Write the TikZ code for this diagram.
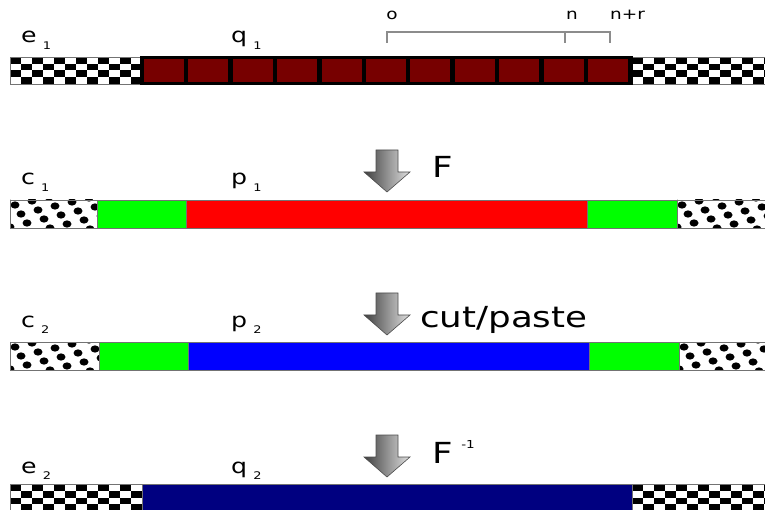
\documentclass[tikz,border=0pt]{standalone}
\usepackage{fontspec}
\setmainfont{DejaVu Sans}
\usetikzlibrary{calc}

% horizontally widened lettering
\newcommand\widetext[1]{\scalebox{1.23}[1]{#1}}
% letter with a detached, lowered index
\newcommand\idx[2]{\widetext{#1\hspace{5pt}\raisebox{-6.5pt}{\fontsize{10.5}{10.5}\selectfont #2}}}

\definecolor{maroonbar}{HTML}{770000}
\definecolor{greenbar}{HTML}{00FF00}
\definecolor{redbar}{HTML}{FF0000}
\definecolor{bluebar}{HTML}{0000FF}
\definecolor{navybar}{HTML}{000080}

\tikzset{
  seg/.style={draw=black!55, line width=0.8pt},
  lbl/.style={inner sep=0pt, anchor=base west, font=\fontsize{20.5}{20.5}\selectfont},
  biglbl/.style={inner sep=0pt, anchor=base west, font=\fontsize{29}{29}\selectfont},
  ticklbl/.style={inner sep=0pt, anchor=base, font=\fontsize{15}{15}\selectfont},
  bracketline/.style={draw=black!45, line width=1.3pt},
  downarrow/.style={draw=black!70, line width=0.6pt, left color=black!75, right color=black!12},
}

% checkerboard strip: x0, x1, top
\newcommand\checkerstrip[3]{%
  \begin{scope}
    \clip (#1,#3) rectangle (#2,#3+27);
    \fill[white] (#1,#3) rectangle (#2,#3+27);
    \foreach \j in {0,...,3}{
      \foreach \i in {0,...,12}{
        \pgfmathtruncatemacro\cpar{mod(\i+\j,2)}
        \ifnum\cpar=0
          \fill[black] (#1+11*\i,#3+6.75*\j) rectangle ++(11,6.75);
        \fi
      }
    }
  \end{scope}
  \draw[seg] (#1,#3) rectangle (#2,#3+27);
}

% dotted strip: x0, x1, top
\newcommand\dotstrip[3]{%
  \begin{scope}
    \clip (#1,#3) rectangle (#2,#3+28);
    \fill[white] (#1,#3) rectangle (#2,#3+28);
    \foreach \j in {-2,...,5}{
      \foreach \i in {-3,...,7}{
        \fill[black] (#1+5+17*\i+6*\j,#3+5-4*\i+9*\j) ellipse [x radius=4.5, y radius=3.6];
      }
    }
  \end{scope}
  \draw[seg] (#1,#3) rectangle (#2,#3+28);
}

% shaded down arrow: centre x, top y
\newcommand\shadedarrow[2]{%
  \path[downarrow] (#1-11,#2) -- (#1+11,#2) -- (#1+11,#2+22) -- (#1+23,#2+22)
    -- (#1,#2+42) -- (#1-23,#2+22) -- (#1-11,#2+22) -- cycle;
}

\begin{document}
\begin{tikzpicture}[x=1pt, y=-1pt]
\useasboundingbox (0,0) rectangle (765,510);

% ---------- row 1 : e1 / q1 ----------
\checkerstrip{10}{141}{57}
\checkerstrip{632}{766}{57}
\fill[black] (140,56) rectangle (633,85);
\foreach \k in {0,...,10}
  \fill[maroonbar] (144+44.4*\k,59.5) rectangle ++(40,22.5);

\draw[bracketline] (387,43) -- (387,32) -- (610,32) -- (610,43);
\draw[bracketline] (565,32) -- (565,43);
\node[ticklbl] (to) at (392,19.5) {\widetext{o}};
\node[ticklbl] (tn) at (572,19.5) {\widetext{n}};
\node[ticklbl, anchor=base west] (tnr) at (610,19.5) {\widetext{n+r}};

\node[lbl] (e1) at (21,43) {\idx{e}{1}};
\node[lbl] (q1) at (231,43) {\idx{q}{1}};

% ---------- row 2 : c1 / p1 ----------
\shadedarrow{387}{150}
\node[biglbl] (F) at (432,178) {\widetext{F}};
\dotstrip{10}{97}{200}
\fill[greenbar] (97,200) rectangle (186,228);
\draw[seg] (97,200) rectangle (186,228);
\fill[redbar] (186,200) rectangle (587,228);
\draw[seg] (186,200) rectangle (587,228);
\fill[greenbar] (587,200) rectangle (677,228);
\draw[seg] (587,200) rectangle (677,228);
\dotstrip{677}{766}{200}
\node[lbl] (c1) at (21,185) {\idx{c}{1}};
\node[lbl] (p1) at (231,185) {\idx{p}{1}};

% ---------- row 3 : c2 / p2 ----------
\shadedarrow{387}{293}
\node[biglbl] (cp) at (420,327) {\widetext{cut/paste}};
\dotstrip{10}{99}{342}
\fill[greenbar] (99,342) rectangle (188,370);
\draw[seg] (99,342) rectangle (188,370);
\fill[bluebar] (188,342) rectangle (589,370);
\draw[seg] (188,342) rectangle (589,370);
\fill[greenbar] (589,342) rectangle (679,370);
\draw[seg] (589,342) rectangle (679,370);
\dotstrip{679}{766}{342}
\node[lbl] (c2) at (21,327) {\idx{c}{2}};
\node[lbl] (p2) at (231,327) {\idx{p}{2}};

% ---------- row 4 : e2 / q2 ----------
\shadedarrow{387}{435}
\node[biglbl] (Finv) at (432,463) {\widetext{F\hspace{7pt}\raisebox{15pt}{\fontsize{11}{11}\selectfont -1}}};
\checkerstrip{10}{142}{484}
\fill[navybar] (142,484) rectangle (632,512);
\draw[seg] (142,484) rectangle (632,512);
\checkerstrip{632}{766}{484}
\node[lbl] (e2) at (21,473) {\idx{e}{2}};
\node[lbl] (q2) at (231,473) {\idx{q}{2}};
\end{tikzpicture}
\end{document}
